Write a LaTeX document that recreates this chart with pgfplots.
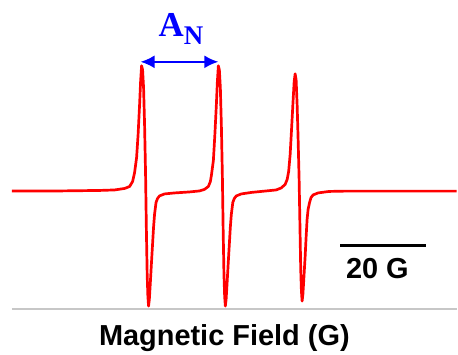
\documentclass[border=0pt]{standalone}
\usepackage{pgfplots}
\pgfplotsset{compat=1.18}
\usepackage{fontspec}
\setmainfont{Liberation Sans}
\newfontfamily\serifbf{Liberation Serif}
\usetikzlibrary{arrows.meta}
\begin{document}
\begin{tikzpicture}
\begin{axis}[
  x=1pt, y=1pt,
  xmin=0, xmax=458, ymin=0, ymax=356,
  y dir=reverse,
  hide axis, clip=false,
]
\path (axis cs:0,0) rectangle (axis cs:458,356);
% baseline axis
\addplot[color=black!22, line width=2pt] coordinates {(12,310) (458,310)};
% spectrum
\addplot[red, line width=2.7pt, line join=round] coordinates {
(12,191.5)(60,191.5)(100,191)(115,190.5)(125,189)(130,187)(133,182)(135,173)(137,158)(138.5,135)(140,105)(141,82)(142,66)(143,70)(144,88)(145,125)(146,175)(146.8,230)(147.6,275)(148.3,297)(149,307)(149.8,300)(150.7,285)(152,262)(153,245)(154,228)(155,215)(156.5,203)(158,199)(160,196.5)(165,194.5)(175,193.5)(190,192.5)(200,191.5)(205,190)(209,187)(211,182)(212,176)(214,161)(215.5,135)(217,105)(218,82)(219,66)(220,70)(221,88)(222,125)(223,175)(223.8,230)(224.6,275)(225.3,297)(226,307)(226.8,300)(227.7,285)(229,262)(230,245)(231,228)(232,215)(233.5,203)(235,199)(237,196.5)(242,194.5)(252,193)(267,191.5)(277,190.5)(282,188.5)(286,185)(288,180)(289.5,172)(291,155)(292.5,128)(294,100)(295,82)(296,74)(297,80)(298,105)(299,140)(300,180)(300.8,225)(301.6,270)(302.3,292)(303,302)(303.8,295)(304.7,280)(306,258)(307,238)(308,220)(309,210)(310.5,203)(312,198)(314,195.5)(319,193.5)(330,192)(345,191.7)(458,191.7)
};
% A_N arrow
\addplot[blue, line width=2pt, {Latex[length=14pt,width=13pt]}-{Latex[length=14pt,width=13pt]}] coordinates {(141,62) (219,62)};
% scale bar
\addplot[black, line width=3pt] coordinates {(341,246) (427,246)};
\node[anchor=base west, inner sep=0pt, text=blue] at (axis cs:159,37)
  {{\serifbf\bfseries\fontsize{35}{35}\selectfont A}\raisebox{-8pt}{\serifbf\bfseries\fontsize{27}{27}\selectfont N}};
\node[anchor=base, inner sep=0pt] at (axis cs:378.5,279)
  {\bfseries\fontsize{29}{29}\selectfont 20 G};
\node[anchor=base, inner sep=0pt] at (axis cs:225,347)
  {\bfseries\fontsize{29}{29}\selectfont Magnetic Field (G)};
\end{axis}
\end{tikzpicture}
\end{document}
